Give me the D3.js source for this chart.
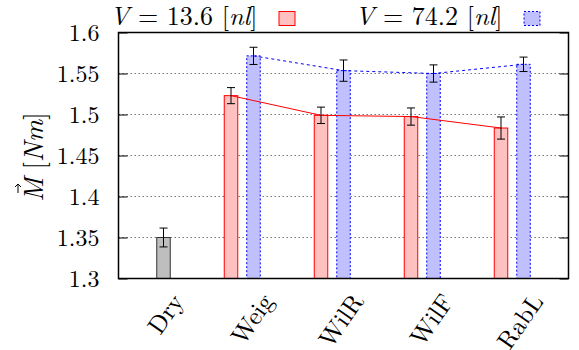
<!DOCTYPE html>
<html>
<head>
<meta charset="utf-8">
<script src="https://cdn.jsdelivr.net/npm/d3@7"></script>
<style>
  body { margin: 0; background: #fff; }
</style>
</head>
<body>
<svg id="chart"></svg>
<script>
// data
const categories = ['Dry', 'Weig', 'WilR', 'WilF', 'RabL']
const dryMean = [1.350]
const dryErr = [0.0115]
const mean136 = [null, 1.523, 1.499, 1.4975, 1.4835]
const err136 = [null, 0.0098, 0.0100, 0.0105, 0.0135]
const mean742 = [null, 1.5715, 1.5535, 1.5500, 1.5612]
const err742 = [null, 0.0105, 0.0130, 0.0105, 0.0088]
const yTicks = [1.3, 1.35, 1.4, 1.45, 1.5, 1.55, 1.6]
const legendLabels = ['13.6', '74.2']

const width = 579
const height = 350
const FONT = '"Latin Modern Roman", "Liberation Serif", serif'

/* CONFIG */
const margin = { top: 32.5, right: 10.5, bottom: 70.5, left: 118.5 }
const barW = 0.15
const redShift = -0.25

const svg = d3.select('#chart')
  .attr('width', width)
  .attr('height', height)

const x = d3.scaleLinear()
  .domain([-0.5, categories.length - 0.5])
  .range([margin.left, width - margin.right])

const y = d3.scaleLinear()
  .domain([1.3, 1.6])
  .range([height - margin.bottom - 1, margin.top])

const plotL = x.range()[0], plotR = x.range()[1]
const plotT = y.range()[1], plotB = y.range()[0]

// grid
svg.append('g')
  .selectAll('line')
  .data(yTicks.slice(1, -1))
  .join('line')
  .attr('x1', plotL).attr('x2', plotR)
  .attr('y1', d => y(d)).attr('y2', d => y(d))
  .attr('stroke', '#777')
  .attr('stroke-width', 1)
  .attr('stroke-dasharray', '1.5,2.5')

const bars = svg.append('g')

// dry bar
bars.selectAll('rect.dry')
  .data(dryMean)
  .join('rect')
  .attr('class', 'dry')
  .attr('x', (d, i) => x(i - barW / 2))
  .attr('width', x(barW) - x(0))
  .attr('y', d => y(d))
  .attr('height', d => plotB - y(d))
  .attr('fill', '#bebebe')
  .attr('stroke', '#333')
  .attr('stroke-width', 1)

const idx = d3.range(categories.length).filter(i => mean136[i] != null)

bars.selectAll('rect.s1')
  .data(idx)
  .join('rect')
  .attr('class', 's1')
  .attr('x', i => x(i + redShift - barW / 2))
  .attr('width', x(barW) - x(0))
  .attr('y', i => y(mean136[i]))
  .attr('height', i => plotB - y(mean136[i]))
  .attr('fill', '#ffc0c0')
  .attr('stroke', '#ff0000')
  .attr('stroke-width', 1)

bars.selectAll('rect.s2')
  .data(idx)
  .join('rect')
  .attr('class', 's2')
  .attr('x', i => x(i - barW / 2))
  .attr('width', x(barW) - x(0))
  .attr('y', i => y(mean742[i]))
  .attr('height', i => plotB - y(mean742[i]))
  .attr('fill', '#c0c0ff')
  .attr('stroke', '#0000ff')
  .attr('stroke-width', 1)
  .attr('stroke-dasharray', '2,2')

// connecting lines
svg.append('path')
  .datum(idx)
  .attr('d', d3.line().x(i => x(i + redShift)).y(i => y(mean136[i])))
  .attr('fill', 'none')
  .attr('stroke', '#ff0000')
  .attr('stroke-width', 1)

svg.append('path')
  .datum(idx)
  .attr('d', d3.line().x(i => x(i)).y(i => y(mean742[i])))
  .attr('fill', 'none')
  .attr('stroke', '#0000ff')
  .attr('stroke-width', 1)
  .attr('stroke-dasharray', '3,3')

// error bars
const errs = [
  ...dryMean.map((m, i) => ({ px: i, m: m, e: dryErr[i] })),
  ...idx.map(i => ({ px: i + redShift, m: mean136[i], e: err136[i] })),
  ...idx.map(i => ({ px: i, m: mean742[i], e: err742[i] }))
]
const eg = svg.append('g').attr('stroke', '#000').attr('stroke-width', 1)
errs.forEach(d => {
  const cx = x(d.px)
  eg.append('line').attr('x1', cx).attr('x2', cx).attr('y1', y(d.m - d.e)).attr('y2', y(d.m + d.e))
  eg.append('line').attr('x1', cx - 4).attr('x2', cx + 4).attr('y1', y(d.m - d.e)).attr('y2', y(d.m - d.e))
  eg.append('line').attr('x1', cx - 4).attr('x2', cx + 4).attr('y1', y(d.m + d.e)).attr('y2', y(d.m + d.e))
})

// axes
const yAxis = svg.append('g')
  .attr('transform', `translate(${plotL},0)`)
  .call(d3.axisLeft(y).tickValues(yTicks).tickFormat(d3.format('')).tickSize(-9).tickPadding(19))
yAxis.select('.domain').remove()
yAxis.selectAll('line').attr('stroke', '#000')
yAxis.selectAll('text').attr('font-size', 24).style('font-family', FONT)

const yAxisR = svg.append('g')
  .attr('transform', `translate(${plotR},0)`)
  .call(d3.axisRight(y).tickValues(yTicks).tickFormat('').tickSize(-9))
yAxisR.select('.domain').remove()
yAxisR.selectAll('line').attr('stroke', '#000')

// frame
svg.append('rect')
  .attr('x', plotL).attr('y', plotT)
  .attr('width', plotR - plotL).attr('height', plotB - plotT)
  .attr('fill', 'none')
  .attr('stroke', '#000')
  .attr('stroke-width', 1.5)

// x labels
svg.append('g')
  .selectAll('text')
  .data(categories)
  .join('text')
  .attr('transform', (d, i) => `translate(${x(i) + 21},${plotB + 23}) rotate(-55)`)
  .attr('text-anchor', 'end')
  .attr('font-size', 25)
  .style('font-family', FONT)
  .text(d => d)

// y label
const yl = svg.append('g').attr('transform', `translate(43,157) rotate(-90)`)
const ylt = yl.append('text')
  .attr('text-anchor', 'middle')
  .attr('font-size', 27)
  .style('font-family', FONT)
ylt.append('tspan').attr('font-style', 'italic').text('M')
ylt.append('tspan').attr('dx', 8).text('[')
ylt.append('tspan').attr('font-style', 'italic').text('Nm')
ylt.append('tspan').text(']')
yl.append('path')
  .attr('d', 'M-36,-25 L-27,-25 M-30,-28 L-27,-25 L-30,-22')
  .attr('fill', 'none').attr('stroke', '#000').attr('stroke-width', 1)

// legend
const legendX = [110, 355]
const boxX = [279, 524]
legendLabels.forEach((lab, k) => {
  const t = svg.append('text')
    .attr('x', legendX[k]).attr('y', 25)
    .attr('font-size', 26)
    .style('font-family', FONT)
    .style('white-space', 'pre')
  t.append('tspan').attr('font-style', 'italic').text('V')
  t.append('tspan').text(' = ' + lab + ' [')
  t.append('tspan').attr('font-style', 'italic').text('nl')
  t.append('tspan').text(']')
})
svg.append('rect')
  .attr('x', boxX[0]).attr('y', 11.5).attr('width', 16).attr('height', 14)
  .attr('fill', '#ffc0c0').attr('stroke', '#ff0000').attr('stroke-width', 1)
svg.append('rect')
  .attr('x', boxX[1]).attr('y', 11.5).attr('width', 16).attr('height', 14)
  .attr('fill', '#c0c0ff').attr('stroke', '#0000ff').attr('stroke-width', 1)
  .attr('stroke-dasharray', '2,2')
</script>
</body>
</html>
